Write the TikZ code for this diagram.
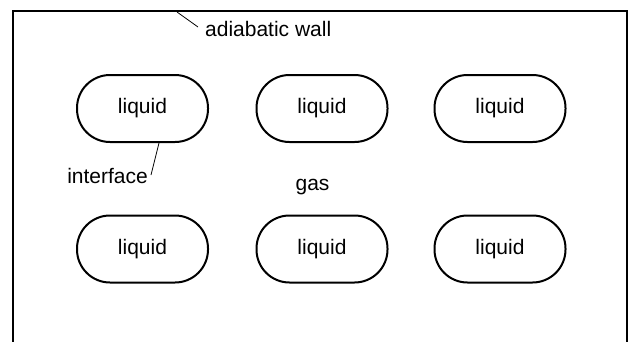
\documentclass[tikz,border=0pt]{standalone}
\usepackage{fontspec}
\setmainfont{Liberation Sans}
\begin{document}
\begin{tikzpicture}[x=1pt,y=-1pt,
  pill/.style={draw, line width=2pt, rounded corners=33pt, minimum width=131pt, minimum height=67pt, inner sep=0pt, font=\fontsize{21}{25}\selectfont},
  lbl/.style={inner sep=0pt, font=\fontsize{21}{25}\selectfont},
  wall/.style={line width=2pt},
  leader/.style={line width=0.8pt}]
\useasboundingbox (0,0) rectangle (629,341);
\draw[wall] (13,345) -- (13,11) -- (627,11) -- (627,345);
\coordinate (wt) at (177,12);
\node[pill] (l1) at (142.5,108.5) {liquid};
\node[pill] (l2) at (322,108.5) {liquid};
\node[pill] (l3) at (500,108.5) {liquid};
\node[pill] (l4) at (142.5,249) {liquid};
\node[pill] (l5) at (322,249) {liquid};
\node[pill] (l6) at (500,249) {liquid};
\node[lbl, anchor=west] (aw) at (205,29) {adiabatic wall};
\node[lbl, anchor=east] (if) at (148,176) {interface};
\node[lbl] (gas) at (312.5,187) {gas};
\coordinate (ifa) at (151,175);
\coordinate (awa) at (198,27);
\draw[leader] (wt) -- (awa);
\draw[leader] ([xshift=16.5pt]l1.south) -- (ifa);
\end{tikzpicture}
\end{document}
